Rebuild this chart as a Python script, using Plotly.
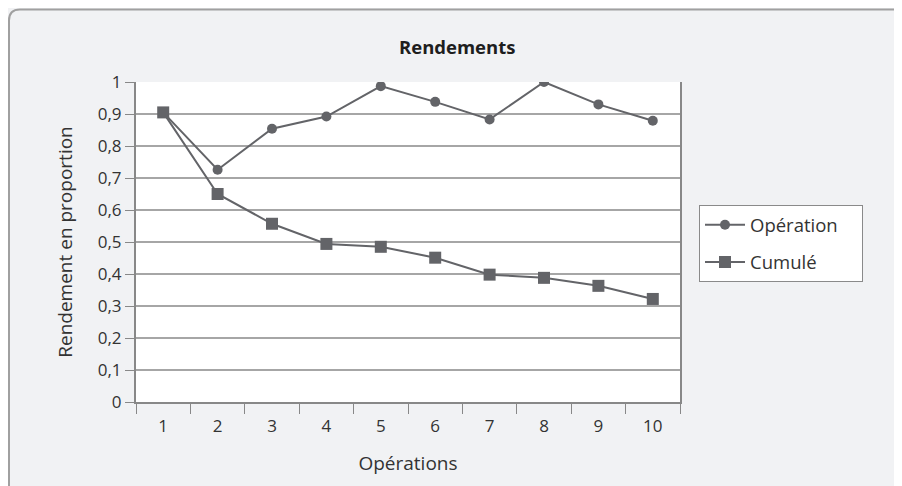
import plotly.graph_objects as go

operations = ["1", "2", "3", "4", "5", "6", "7", "8", "9", "10"]
operation_values = [0.905, 0.726, 0.854, 0.892, 0.987, 0.938, 0.883, 1.0, 0.930, 0.879]
cumule_values = [0.905, 0.650, 0.557, 0.494, 0.485, 0.451, 0.398, 0.388, 0.363, 0.322]
y_ticks = [0, 0.1, 0.2, 0.3, 0.4, 0.5, 0.6, 0.7, 0.8, 0.9, 1]
y_tick_labels = ["0", "0,1", "0,2", "0,3", "0,4", "0,5", "0,6", "0,7", "0,8", "0,9", "1"]
series_names = ["Opération", "Cumulé"]

line_col = "#636468"
font_fam = "'Open Sans', Lato, sans-serif"
txt_col = "#333333"
PAD = "\u00a0\u00a0\u00a0\u00a0"

fig = go.Figure()
fig.add_trace(go.Scatter(
    x=operations, y=operation_values, name=series_names[0] + PAD, mode="lines+markers",
    legendgroup="a",
    line=dict(color=line_col, width=2),
    marker=dict(symbol="circle", size=10, color=line_col),
))
fig.add_trace(go.Scatter(
    x=operations, y=cumule_values, name=series_names[1] + PAD, mode="lines+markers",
    legendgroup="b",
    line=dict(color=line_col, width=2),
    marker=dict(symbol="square", size=12, color=line_col),
))

# the page body has an 8px margin: work in reference pixel coordinates, shifted by 8
OFF = 8
W, H = 902 - OFF, 486 - OFF
L, R, T, B = 136 - OFF, 680 - OFF, 81.5 - OFF, 402 - OFF


def px(x):
    return (x - OFF - L) / (R - L)


def py(y):
    return (B - (y - OFF)) / (B - T)


fig.update_layout(
    width=W, height=H,
    margin=dict(l=L, r=W - R, t=T, b=H - B),
    paper_bgcolor="#f1f2f4",
    plot_bgcolor="white",
    font=dict(family=font_fam, color=txt_col, size=16),
    showlegend=True,
    legend=dict(
        x=px(699), xanchor="left",
        y=py(205), yanchor="top",
        bgcolor="white", bordercolor="#8a8a8a", borderwidth=1,
        font=dict(size=18.5, color=txt_col),
        traceorder="grouped",
        tracegroupgap=10,
        itemwidth=40,
    ),
    xaxis=dict(
        type="category",
        range=[-0.5, len(operations) - 0.5],
        tickson="boundaries",
        ticks="outside", ticklen=10, tickcolor="#888888", tickwidth=1,
        showline=True, linecolor="#888888", linewidth=2,
        showgrid=False,
        tickfont=dict(size=17, color=txt_col),
        ticklabelstandoff=8,
        title=dict(text="Opérations", font=dict(size=19, color=txt_col), standoff=20),
    ),
    yaxis=dict(
        range=[0, 1],
        tickvals=y_ticks, ticktext=y_tick_labels,
        ticks="outside", ticklen=9, tickcolor="#888888",
        showline=True, linecolor="#888888", linewidth=2, mirror=True,
        showgrid=True, gridcolor="#a6a6a6", gridwidth=1.5,
        zeroline=False,
        tickfont=dict(size=17, color=txt_col),
        title=dict(text="Rendement en proportion", font=dict(size=19, color=txt_col), standoff=20),
    ),
    shapes=[
        dict(
            type="path", xref="paper", yref="paper",
            path=f"M {px(9)},{py(520)} "
                 f"L {px(9)},{py(20)} "
                 f"Q {px(9)},{py(9)} {px(20)},{py(9)} "
                 f"L {px(920)},{py(9)}",
            line=dict(color="#a0a0a0", width=2),
            layer="below",
        ),
    ],
    annotations=[
        dict(text="<b>Rendements</b>", xref="paper", yref="paper",
             x=px(457), y=py(46),
             xanchor="center", yanchor="middle", showarrow=False,
             font=dict(size=18.5, color="#1e1e1e")),
    ],
)

fig.write_html("out.html")
